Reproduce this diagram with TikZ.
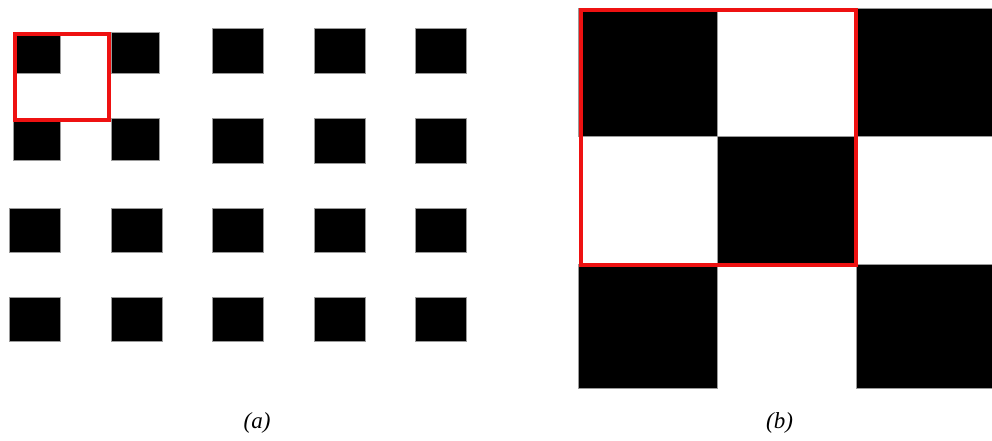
\documentclass[tikz,border=0pt]{standalone}
\usepackage{fontspec}
\setmainfont{Liberation Serif}
\usepackage{tikz}
\usetikzlibrary{positioning}
\usepackage{xcolor}
\definecolor{markred}{HTML}{EE1111}
\definecolor{edgegray}{HTML}{9A9A9A}

\begin{document}
\begin{tikzpicture}[
  x=1pt, y=-1pt,
  blackcell/.style={
    fill=black,
    draw=edgegray,
    line width=0.6pt
  },
  markbox/.style={
    draw=markred,
    line width=4pt
  },
  panelcaption/.style={
    font=\fontsize{23}{28}\selectfont\itshape,
    inner sep=0pt,
    text=black
  }
]
  \useasboundingbox (0,0) rectangle (992,440);

  % ----------------------------------------------------
  % (a) SPARSE GRID OF BLACK SQUARES
  % ----------------------------------------------------
  % Lower two rows
  \foreach \xl in {9,111,212,314,415} {
    \foreach \yt in {208,297} {
      \filldraw[blackcell] (\xl,\yt) rectangle ++(51,44.5);
    }
  }
  % Upper two rows, right three columns
  \foreach \xl in {212,314,415} {
    \foreach \yt in {28,118} {
      \filldraw[blackcell] (\xl,\yt) rectangle ++(51,45);
    }
  }
  % Upper left block (the marked period)
  \filldraw[blackcell] (13.5,32) rectangle (60,73);
  \filldraw[blackcell] (111,32) rectangle (159,73);
  \filldraw[blackcell] (13.5,118) rectangle (60,160.5);
  \filldraw[blackcell] (111,118) rectangle (159,160.5);

  \draw[markbox] (15.4,33.7) rectangle (108.6,119.8);

  % ----------------------------------------------------
  % (b) CHECKERBOARD CLOSE-UP
  % ----------------------------------------------------
  \begin{scope}
    \clip (0,0) rectangle (992,440);
    \filldraw[blackcell] (578,8) rectangle (717,136);
    \filldraw[blackcell] (856,8) rectangle (996,136);
    \filldraw[blackcell] (717,136) rectangle (856,264);
    \filldraw[blackcell] (578,264) rectangle (717,388);
    \filldraw[blackcell] (856,264) rectangle (996,388);
  \end{scope}

  \draw[markbox] (581,10) rectangle (855.5,264.7);

  % ----------------------------------------------------
  % CAPTIONS
  % ----------------------------------------------------
  \node[panelcaption] (capa) at (257,423) {(a)};
  \node[panelcaption] (capb) at (779.5,423) {(b)};

\end{tikzpicture}
\end{document}
